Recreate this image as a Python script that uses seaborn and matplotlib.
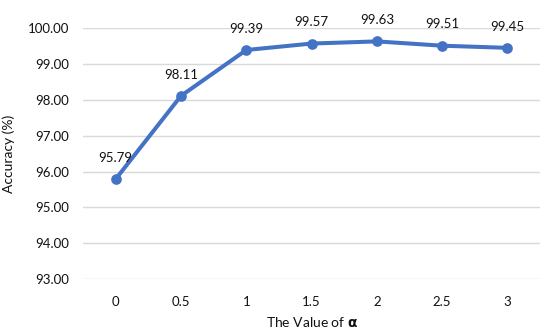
import matplotlib
matplotlib.use('Agg')
import matplotlib.pyplot as plt
import seaborn as sns
import pandas as pd

alpha_values = ['0', '0.5', '1', '1.5', '2', '2.5', '3']
accuracy = [95.79, 98.11, 99.39, 99.57, 99.63, 99.51, 99.45]

df = pd.DataFrame({'alpha': alpha_values, 'acc': accuracy})

sns.set_style('white')
plt.rcParams['font.family'] = ['Lato', 'DejaVu Sans']
plt.rcParams['mathtext.fontset'] = 'dejavusans'

fig = plt.figure(figsize=(5.5, 3.35), dpi=100)
ax = fig.add_axes([0.151, 0.167, 0.831, 0.749])

line_color = '#4472C4'
text_color = '#111111'
sns.pointplot(data=df, x='alpha', y='acc', color=line_color, ax=ax,
              markers='o', markersize=5.5, linewidth=2.9, errorbar=None)

for i, v in enumerate(accuracy):
    ax.annotate(f'{v:.2f}', (i, v), xytext=(0, 11), textcoords='offset points',
                ha='center', va='bottom', fontsize=9.5, color=text_color)

ax.set_xlim(-0.5, 6.5)
ax.set_ylim(93, 100)
ax.set_yticks([93, 94, 95, 96, 97, 98, 99, 100])
ax.set_yticklabels([f'{t:.2f}' for t in ax.get_yticks()])
ax.yaxis.grid(True, color='#d9d9d9', linewidth=1)
ax.set_axisbelow(True)
for s in ax.spines.values():
    s.set_visible(False)
ax.tick_params(axis='both', length=0, labelsize=9.5, colors=text_color)
ax.tick_params(axis='y', pad=10)
ax.tick_params(axis='x', pad=12)
ax.set_xlabel(r'The Value of $\mathbf{\alpha}$', fontsize=10, color=text_color, labelpad=5)
ax.set_ylabel('Accuracy (%)', fontsize=10, color=text_color, labelpad=9)

fig.savefig('out.png', dpi=100)
